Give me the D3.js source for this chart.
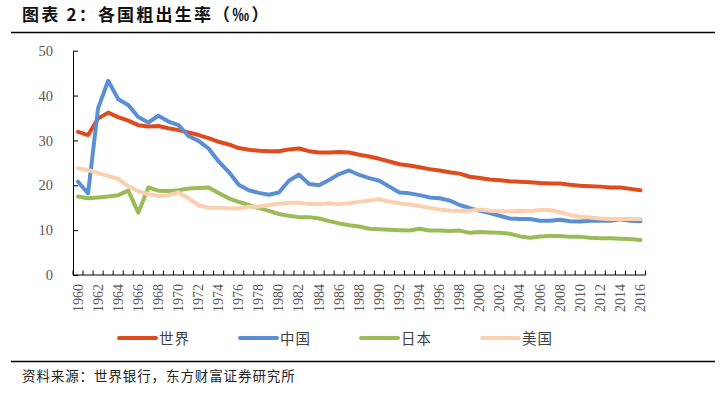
<!DOCTYPE html>
<html><head><meta charset="utf-8">
<script src="https://cdn.jsdelivr.net/npm/d3@7"></script>
<style>
html,body{margin:0;padding:0;background:#fff;}
svg{display:block;}
</style></head>
<body>
<script>
const years = d3.range(1960, 2017);
const world = [31.9,31.2,34.9,36.2,35.2,34.4,33.4,33.1,33.2,32.7,32.3,31.8,31.2,30.5,29.7,29.1,28.3,27.9,27.7,27.6,27.6,28.0,28.2,27.6,27.3,27.3,27.4,27.3,26.8,26.4,25.9,25.3,24.7,24.4,24.0,23.6,23.3,22.9,22.6,21.9,21.6,21.3,21.1,20.9,20.8,20.7,20.5,20.4,20.4,20.1,19.9,19.8,19.7,19.5,19.5,19.2,18.9];
const china = [20.8,18.2,37.2,43.3,39.2,37.9,35.2,34.0,35.5,34.2,33.4,31.0,29.9,28.2,25.3,23.0,20.1,18.9,18.3,17.9,18.4,21.0,22.4,20.3,20.0,21.2,22.5,23.3,22.3,21.6,21.0,19.7,18.4,18.2,17.8,17.3,17.1,16.6,15.6,14.9,14.3,13.8,13.2,12.6,12.5,12.5,12.1,12.1,12.3,12.0,11.9,12.1,12.1,12.1,12.4,12.1,12.0];
const japan = [17.5,17.1,17.3,17.5,17.8,18.8,13.9,19.5,18.8,18.7,18.9,19.3,19.4,19.5,18.3,17.1,16.3,15.6,14.9,14.3,13.6,13.2,12.9,12.9,12.6,12.0,11.5,11.1,10.8,10.3,10.2,10.1,10.0,9.9,10.3,9.9,9.9,9.8,9.9,9.4,9.6,9.5,9.4,9.2,8.6,8.3,8.6,8.7,8.7,8.5,8.5,8.3,8.2,8.2,8.1,8.0,7.8];
const usa = [23.8,23.4,22.7,22.1,21.4,19.8,18.7,18.0,17.6,17.8,18.4,17.1,15.6,15.0,15.0,14.9,14.8,15.2,15.2,15.6,15.9,16.1,16.1,15.8,15.8,16.0,15.8,16.0,16.3,16.6,16.9,16.4,16.0,15.7,15.4,15.0,14.6,14.4,14.3,14.3,14.6,14.3,14.2,14.2,14.3,14.2,14.5,14.5,14.0,13.4,13.0,12.8,12.6,12.5,12.5,12.5,12.5];
const yTicks = [0,10,20,30,40,50];
const seriesNames = ["世界","中国","日本","美国"];
const seriesColors = ["#DF4B1D","#5A8FD6","#9BBB59","#FAD0AE"];
const title = "图表 2：各国粗出生率（‰）";
const source = "资料来源：世界银行，东方财富证券研究所";

const W = 726, H = 398;
const svg = d3.select("body").append("svg").attr("width", W).attr("height", H);

const x = d3.scaleBand().domain(years).range([73, 645.5]).padding(0);
const y = d3.scaleLinear().domain([0, 50]).range([275, 50.7]);
const cx = d => x(d) + x.bandwidth() / 2;

// title & rules
svg.append("text").attr("x", 22).attr("y", 21)
  .attr("font-family", "'Noto Sans CJK SC'").attr("font-weight", "bold")
  .attr("font-size", 17).attr("letter-spacing", 2.2).attr("fill", "#111").text(title);
svg.append("line").attr("x1", 11).attr("x2", 715).attr("y1", 32.5).attr("y2", 32.5)
  .attr("stroke", "#000").attr("stroke-width", 1.3);
svg.append("line").attr("x1", 11).attr("x2", 715).attr("y1", 361.5).attr("y2", 361.5)
  .attr("stroke", "#000").attr("stroke-width", 1.3);
svg.append("text").attr("x", 22).attr("y", 381)
  .attr("font-family", "'Noto Sans CJK SC'").attr("font-size", 13.5).attr("letter-spacing", 0.9)
  .attr("fill", "#222").text(source);

// y axis
const yAxis = d3.axisLeft(y).tickValues(yTicks).tickSizeInner(-5).tickSizeOuter(0).tickPadding(20);
const gy = svg.append("g").attr("transform", "translate(73,0)").call(yAxis);
gy.select(".domain").attr("stroke", "#000");
gy.selectAll(".tick line").attr("stroke", "#000");
gy.selectAll(".tick text").attr("font-family", "'Liberation Serif'").attr("font-size", 14.5).attr("fill", "#595959");

// x axis
const gx = svg.append("g");
gx.append("line").attr("x1", x.range()[0]).attr("x2", x.range()[1]).attr("y1", y(0)).attr("y2", y(0)).attr("stroke", "#000");
const bounds = years.map(d => x(d)).concat([x.range()[1]]);
gx.selectAll("line.tk").data(bounds).enter().append("line").attr("class", "tk")
  .attr("x1", d => d).attr("x2", d => d).attr("y1", y(0)).attr("y2", y(0) - 4.5).attr("stroke", "#000");
gx.selectAll("text").data(years.filter(d => d % 2 === 0)).enter().append("text")
  .attr("transform", d => `translate(${cx(d) + 4.5},284) rotate(-90)`)
  .attr("text-anchor", "end")
  .attr("font-family", "'Liberation Serif'").attr("font-size", 14).attr("fill", "#595959")
  .text(d => d);

// lines
const data = [world, china, japan, usa];
const line = d3.line().x((d, i) => cx(years[i])).y(d => y(d));
svg.selectAll("path.series").data(data).enter().append("path").attr("class", "series")
  .attr("d", line).attr("fill", "none")
  .attr("stroke", (d, i) => seriesColors[i]).attr("stroke-width", 4)
  .attr("stroke-linejoin", "round").attr("stroke-linecap", "round");

// legend
const lx = [119, 240, 361, 482];
const lg = svg.selectAll("g.leg").data(seriesNames).enter().append("g").attr("class", "leg")
  .attr("transform", (d, i) => `translate(${lx[i]},338)`);
lg.append("line").attr("x1", 0).attr("x2", 37).attr("stroke", (d, i) => seriesColors[i])
  .attr("stroke-width", 4).attr("stroke-linecap", "round");
lg.append("text").attr("x", 40).attr("y", 5.5)
  .attr("font-family", "'Noto Sans CJK SC'").attr("font-size", 14.5).attr("fill", "#404040")
  .attr("letter-spacing", 1).text(d => d);
</script>
</body></html>
